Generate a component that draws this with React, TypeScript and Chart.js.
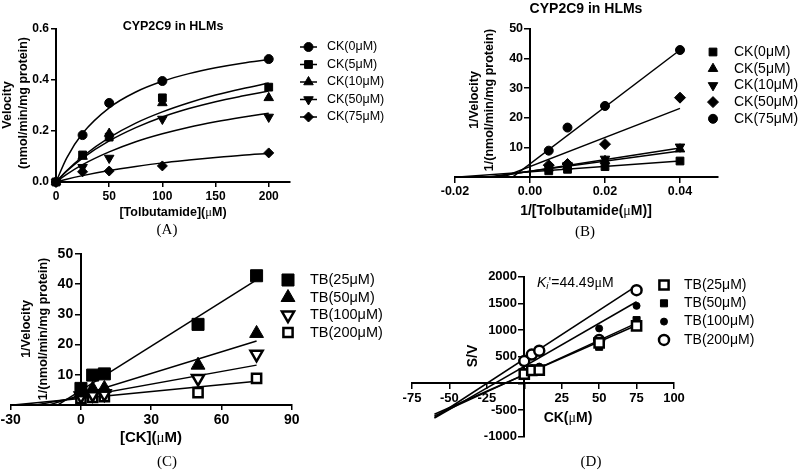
import React, { useEffect, useRef } from 'react';
import { Chart, registerables } from 'chart.js';
import { drawPoint } from 'chart.js/helpers';

Chart.register(...registerables);

const OFF = 100;
const SANS = '"Liberation Sans", Arial, Helvetica, sans-serif';
const SERIF = '"Liberation Serif", "Times New Roman", serif';

// ---------- Panel A: Michaelis-Menten ----------
const tolbutamideA = [0, 25, 50, 100, 200];
const velCK0 = [0, 0.184, 0.31, 0.396, 0.482];
const velCK5 = [0, 0.106, 0.176, 0.33, 0.372];
const velCK10 = [0, 0.1, 0.19, 0.31, 0.33];
const velCK50 = [0, 0.058, 0.094, 0.247, 0.255];
const velCK75 = [0, 0.04, 0.043, 0.063, 0.114];
const fitXA = [0, 10, 25, 50, 75, 100, 125, 150, 175, 200];
const fitCK0 = [0, 0.094, 0.191, 0.291, 0.353, 0.395, 0.425, 0.448, 0.466, 0.48];
const fitCK5 = [0, 0.044, 0.1, 0.174, 0.231, 0.275, 0.311, 0.341, 0.366, 0.388];
const fitCK10 = [0, 0.042, 0.094, 0.161, 0.213, 0.255, 0.288, 0.315, 0.337, 0.357];
const fitCK50 = [0, 0.03, 0.068, 0.118, 0.158, 0.189, 0.215, 0.236, 0.254, 0.27];
const fitCK75 = [0, 0.011, 0.025, 0.045, 0.061, 0.075, 0.086, 0.096, 0.105, 0.112];
const legendA = ['CK(0μM)', 'CK(5μM)', 'CK(10μM)', 'CK(50μM)', 'CK(75μM)'];
const ticksAX = [0, 50, 100, 150, 200];
const tickLabelsAX = ['0', '50', '100', '150', '200'];
const ticksAY = [0, 0.2, 0.4, 0.6];
const tickLabelsAY = ['0.0', '0.2', '0.4', '0.6'];

// ---------- Panel B: Lineweaver-Burk ----------
const invSubstrateB = [0.005, 0.01, 0.02, 0.04];
const invVelCK0 = [2.1, 2.6, 3.5, 5.4];
const invVelCK5 = [3.0, 3.6, 5.5, 9.4];
const invVelCK10 = [3.1, 4.0, 6.1, 10.2];
const invVelCK50 = [4.0, 4.4, 11.1, 26.8];
const invVelCK75 = [8.9, 16.7, 24.0, 42.9];
const lineXB = [-0.02, 0.04];
const lineCK0B = [-0.07, 5.39];
const lineCK5B = [-1.5, 8.8];
const lineCK10B = [-2.0, 9.8];
const lineCK50B = [-6.3, 23.2];
const lineCK75B = [-14.8, 42.9];
const legendB = ['CK(0μM)', 'CK(5μM)', 'CK(10μM)', 'CK(50μM)', 'CK(75μM)'];
const ticksBX = [-0.02, 0, 0.02, 0.04];
const tickLabelsBX = ['-0.02', '0.00', '0.02', '0.04'];
const ticksBY = [0, 10, 20, 30, 40, 50];
const tickLabelsBY = ['', '10', '20', '30', '40', '50'];

// ---------- Panel C: Dixon plot ----------
const ckC = [0, 5, 10, 50, 75];
const invVelTB25 = [5.5, 9.9, 10.3, 26.7, 42.8];
const invVelTB50 = [4.0, 5.3, 5.5, 13.2, 23.7];
const invVelTB100 = [3.0, 3.5, 3.7, 8.8, 16.8];
const invVelTB200 = [2.2, 2.5, 2.8, 4.1, 8.8];
const lineXC = [-30, 75];
const lineTB25C = [-9.8, 41.4];
const lineTB50C = [-3.9, 21.2];
const lineTB100C = [-1.5, 13.2];
const lineTB200C = [-0.1, 7.9];
const legendC = ['TB(25μM)', 'TB(50μM)', 'TB(100μM)', 'TB(200μM)'];
const ticksCX = [-30, 0, 30, 60, 90];
const tickLabelsCX = ['-30', '0', '30', '60', '90'];
const ticksCY = [0, 10, 20, 30, 40, 50];
const tickLabelsCY = ['', '10', '20', '30', '40', '50'];

// ---------- Panel D: Cornish-Bowden plot ----------
const ckD = [0, 5, 10, 50, 75];
const svTB25 = [175, 245, 250, 760, 1079];
const svTB50 = [142, 260, 255, 686, 1186];
const svTB100 = [215, 290, 315, 1030, 1453];
const svTB200 = [418, 540, 611, 811, 1747];
const lineXD = [-60, 75];
const lineTB25D = [-580, 1090];
const lineTB50D = [-610, 1130];
const lineTB100D = [-650, 1530];
const lineTB200D = [-640, 1830];
const legendD = ['TB(25μM)', 'TB(50μM)', 'TB(100μM)', 'TB(200μM)'];
const ticksDX = [-75, -50, -25, 0, 25, 50, 75, 100];
const tickLabelsDX = ['-75', '-50', '-25', '', '25', '50', '75', '100'];
const ticksDY = [-1000, -500, 0, 500, 1000, 1500, 2000];
const tickLabelsDY = ['-1000', '-500', '', '500', '1000', '1500', '2000'];

type MStyle = { style: string; radius: number; rotation: number; fill: string; bw: number };

const pts = (xs: number[], ys: number[]) => xs.map((x, i) => ({ x, y: ys[i] }));

function markerSet(xs: number[], ys: number[], m: MStyle) {
  return {
    data: pts(xs, ys),
    showLine: false,
    pointStyle: m.style,
    pointRadius: m.radius,
    pointHoverRadius: m.radius,
    pointRotation: m.rotation,
    pointBackgroundColor: m.fill,
    pointBorderColor: '#000',
    pointBorderWidth: m.bw,
    clip: false,
  };
}

function lineSet(xs: number[], ys: number[], smooth = false) {
  return {
    data: pts(xs, ys),
    showLine: true,
    pointRadius: 0,
    pointHoverRadius: 0,
    borderColor: '#000',
    borderWidth: 1.5,
    fill: false,
    cubicInterpolationMode: smooth ? 'monotone' : 'default',
  };
}

// box: size reserved by the axis in the layout (0 for axes placed at a data value)
// pad: trailing spaces that keep labels of such axes clear of their tick marks
function axis(o: any) {
  const suffix = o.pad ? '  ' : '';
  return {
    type: 'linear',
    min: o.min,
    max: o.max,
    position: o.position,
    afterBuildTicks: (s: any) => {
      s.ticks = o.ticks.map((v: number) => ({ value: v }));
    },
    afterFit: (s: any) => {
      if (o.horizontal) s.height = o.box;
      else s.width = o.box;
    },
    ticks: {
      callback: (_v: number, i: number) => (o.labels[i] ? o.labels[i] + suffix : ''),
      font: { family: SANS, size: o.size, weight: 'bold' },
      color: '#000',
      padding: 2,
      autoSkip: false,
      maxRotation: 0,
      minRotation: 0,
    },
    grid: { display: true, drawOnChartArea: false, drawTicks: true, tickLength: 5, color: '#000', lineWidth: 1.5 },
    border: { display: true, color: '#000', width: 2 },
    title: { display: false },
  };
}

function legendPlugin(cfg: any) {
  return {
    id: 'markerLegend',
    afterDraw(chart: any) {
      const ctx = chart.ctx;
      ctx.save();
      cfg.items.forEach((text: string, i: number) => {
        const m: MStyle = cfg.styles[i];
        const cx = cfg.x + OFF;
        const cy = cfg.y + i * cfg.dy + OFF;
        if (cfg.line) {
          ctx.beginPath();
          ctx.strokeStyle = '#000';
          ctx.lineWidth = 1.5;
          ctx.moveTo(cx - cfg.lineHalf, cy);
          ctx.lineTo(cx + cfg.lineHalf, cy);
          ctx.stroke();
        }
        ctx.fillStyle = m.fill;
        ctx.strokeStyle = '#000';
        ctx.lineWidth = m.bw;
        drawPoint(ctx, { pointStyle: m.style, rotation: m.rotation, radius: m.radius, borderWidth: m.bw } as any, cx, cy);
        ctx.fillStyle = '#000';
        ctx.font = `${cfg.size}px ${SANS}`;
        ctx.textAlign = 'left';
        ctx.textBaseline = 'middle';
        ctx.fillText(text, cfg.textX + OFF, cy);
      });
      ctx.restore();
    },
  };
}

function padFor(a: { l: number; r: number; t: number; b: number }, boxL: number, boxB: number) {
  return { left: a.l + OFF - boxL, right: 800 - a.r + OFF, top: a.t + OFF, bottom: 470 - a.b + OFF - boxB };
}

function baseConfig(datasets: any[], scales: any, pad: any, legend: any) {
  return {
    type: 'scatter',
    data: { datasets },
    options: {
      responsive: false,
      maintainAspectRatio: false,
      animation: false,
      events: [],
      layout: { padding: pad },
      plugins: { legend: { display: false }, tooltip: { enabled: false }, title: { display: false } },
      scales,
    },
    plugins: [legendPlugin(legend)],
  };
}

// marker styles
const stA: MStyle[] = [
  { style: 'circle', radius: 4.5, rotation: 0, fill: '#000', bw: 1 },
  { style: 'rect', radius: 5.5, rotation: 0, fill: '#000', bw: 1 },
  { style: 'triangle', radius: 5.5, rotation: 0, fill: '#000', bw: 1 },
  { style: 'triangle', radius: 5.5, rotation: 180, fill: '#000', bw: 1 },
  { style: 'rectRot', radius: 5, rotation: 0, fill: '#000', bw: 1 },
];
const stB: MStyle[] = [
  { style: 'rect', radius: 5.5, rotation: 0, fill: '#000', bw: 1 },
  { style: 'triangle', radius: 5.5, rotation: 0, fill: '#000', bw: 1 },
  { style: 'triangle', radius: 5.5, rotation: 180, fill: '#000', bw: 1 },
  { style: 'rectRot', radius: 5.5, rotation: 0, fill: '#000', bw: 1 },
  { style: 'circle', radius: 4.5, rotation: 0, fill: '#000', bw: 1 },
];
const stC: MStyle[] = [
  { style: 'rect', radius: 8.5, rotation: 0, fill: '#000', bw: 1 },
  { style: 'triangle', radius: 8, rotation: 0, fill: '#000', bw: 1 },
  { style: 'triangle', radius: 7, rotation: 180, fill: '#fff', bw: 2.5 },
  { style: 'rect', radius: 6.5, rotation: 0, fill: '#fff', bw: 2.5 },
];
const stD: MStyle[] = [
  { style: 'rect', radius: 6.5, rotation: 0, fill: '#fff', bw: 2.5 },
  { style: 'rect', radius: 5, rotation: 0, fill: '#000', bw: 1 },
  { style: 'circle', radius: 3.5, rotation: 0, fill: '#000', bw: 1 },
  { style: 'circle', radius: 5, rotation: 0, fill: '#fff', bw: 2.5 },
];

function configA() {
  const ds = [
    markerSet(tolbutamideA, velCK0, stA[0]),
    markerSet(tolbutamideA, velCK5, stA[1]),
    markerSet(tolbutamideA, velCK10, stA[2]),
    markerSet(tolbutamideA, velCK50, stA[3]),
    markerSet(tolbutamideA, velCK75, stA[4]),
    lineSet(fitXA, fitCK0, true),
    lineSet(fitXA, fitCK5, true),
    lineSet(fitXA, fitCK10, true),
    lineSet(fitXA, fitCK50, true),
    lineSet(fitXA, fitCK75, true),
  ];
  const scales = {
    x: axis({ min: 0, max: 220, ticks: ticksAX, labels: tickLabelsAX, size: 12, position: 'bottom', horizontal: true, box: 30 }),
    y: axis({ min: 0, max: 0.6, ticks: ticksAY, labels: tickLabelsAY, size: 12, position: 'left', horizontal: false, box: 50 }),
  };
  return baseConfig(ds, scales, padFor({ l: 56, r: 290, t: 29, b: 182 }, 50, 30), {
    items: legendA, styles: stA, x: 308.5, textX: 327, y: 47, dy: 17.5, size: 12.5, line: true, lineHalf: 8.5,
  });
}

function configB() {
  const ds = [
    markerSet(invSubstrateB, invVelCK0, stB[0]),
    markerSet(invSubstrateB, invVelCK5, stB[1]),
    markerSet(invSubstrateB, invVelCK10, stB[2]),
    markerSet(invSubstrateB, invVelCK50, stB[3]),
    markerSet(invSubstrateB, invVelCK75, stB[4]),
    lineSet(lineXB, lineCK0B),
    lineSet(lineXB, lineCK5B),
    lineSet(lineXB, lineCK10B),
    lineSet(lineXB, lineCK50B),
    lineSet(lineXB, lineCK75B),
  ];
  const scales = {
    x: axis({ min: -0.02, max: 0.05, ticks: ticksBX, labels: tickLabelsBX, size: 12.5, position: { y: 0 }, horizontal: true, box: 0 }),
    y: axis({ min: 0, max: 50, ticks: ticksBY, labels: tickLabelsBY, size: 12.5, position: { x: 0 }, horizontal: false, box: 0, pad: true }),
  };
  return baseConfig(ds, scales, padFor({ l: 455, r: 717.5, t: 29, b: 177 }, 0, 0), {
    items: legendB, styles: stB, x: 713, textX: 734, y: 52, dy: 16.7, size: 14, line: false,
  });
}

function configC() {
  const ds = [
    markerSet(ckC, invVelTB25, stC[0]),
    markerSet(ckC, invVelTB50, stC[1]),
    markerSet(ckC, invVelTB100, stC[2]),
    markerSet(ckC, invVelTB200, stC[3]),
    lineSet(lineXC, lineTB25C),
    lineSet(lineXC, lineTB50C),
    lineSet(lineXC, lineTB100C),
    lineSet(lineXC, lineTB200C),
  ];
  const scales = {
    x: axis({ min: -30, max: 90, ticks: ticksCX, labels: tickLabelsCX, size: 14, position: 'bottom', horizontal: true, box: 30 }),
    y: axis({ min: 0, max: 50, ticks: ticksCY, labels: tickLabelsCY, size: 14, position: { x: 0 }, horizontal: false, box: 0, pad: true }),
  };
  return baseConfig(ds, scales, padFor({ l: 10.7, r: 291.7, t: 254, b: 405 }, 0, 30), {
    items: legendC, styles: stC, x: 288, textX: 310, y: 280, dy: 17.5, size: 14.5, line: false,
  });
}

function configD() {
  const ds = [
    markerSet(ckD, svTB25, stD[0]),
    markerSet(ckD, svTB50, stD[1]),
    markerSet(ckD, svTB100, stD[2]),
    markerSet(ckD, svTB200, stD[3]),
    lineSet(lineXD, lineTB25D),
    lineSet(lineXD, lineTB50D),
    lineSet(lineXD, lineTB100D),
    lineSet(lineXD, lineTB200D),
  ];
  const scales = {
    x: axis({ min: -75, max: 100, ticks: ticksDX, labels: tickLabelsDX, size: 13, position: { y: 0 }, horizontal: true, box: 0 }),
    y: axis({ min: -1000, max: 2000, ticks: ticksDY, labels: tickLabelsDY, size: 13, position: { x: 0 }, horizontal: false, box: 0, pad: true }),
  };
  return baseConfig(ds, scales, padFor({ l: 412, r: 674, t: 276.7, b: 436.7 }, 0, 0), {
    items: legendD, styles: stD, x: 664, textX: 684, y: 285, dy: 18.3, size: 14, line: false,
  });
}

function ChartLayer({ make }: { make: () => any }) {
  const ref = useRef<HTMLCanvasElement>(null);
  useEffect(() => {
    const chart = new Chart(ref.current as HTMLCanvasElement, make() as any);
    return () => chart.destroy();
  }, []);
  return (
    <canvas
      ref={ref}
      width={1000}
      height={670}
      style={{ position: 'absolute', left: -OFF, top: -OFF, width: 1000, height: 670 }}
    />
  );
}

function Txt(p: { x: number; y: number; size: number; bold?: boolean; serif?: boolean; rot?: boolean; left?: boolean; children: any }) {
  const tr = p.left ? 'translate(0,-50%)' : `translate(-50%,-50%)${p.rot ? ' rotate(-90deg)' : ''}`;
  return (
    <div
      style={{
        position: 'absolute',
        left: p.x,
        top: p.y,
        transform: tr,
        fontFamily: p.serif ? SERIF : SANS,
        fontSize: p.size,
        fontWeight: p.bold ? 700 : 400,
        whiteSpace: 'nowrap',
        lineHeight: 1,
        color: '#000',
      }}
    >
      {p.children}
    </div>
  );
}

const Mu = () => <span style={{ fontFamily: SERIF, fontWeight: 400 }}>μ</span>;

export default function App() {
  return (
    <div style={{ position: 'fixed', left: 0, top: 0, width: 800, height: 470, overflow: 'hidden', background: '#fff' }}>
      <ChartLayer make={configA} />
      <ChartLayer make={configB} />
      <ChartLayer make={configC} />
      <ChartLayer make={configD} />

      {/* Panel A */}
      <Txt x={173} y={26} size={12.5} bold>CYP2C9 in HLMs</Txt>
      <Txt x={173} y={212} size={12.5} bold>[Tolbutamide](<Mu />M)</Txt>
      <Txt x={7} y={105} size={12.5} bold rot>Velocity</Txt>
      <Txt x={23} y={103} size={12.5} bold rot>(nmol/min/mg protein)</Txt>
      <Txt x={167} y={229} size={15} serif>(A)</Txt>

      {/* Panel B */}
      <Txt x={586} y={8} size={14} bold>CYP2C9 in HLMs</Txt>
      <Txt x={586} y={210} size={14} bold>1/[Tolbutamide(<Mu />M)]</Txt>
      <Txt x={474} y={100} size={12.5} bold rot>1/Velocity</Txt>
      <Txt x={489} y={100} size={12.5} bold rot>1/(nmol/min/mg protein)</Txt>
      <Txt x={585} y={231} size={15} serif>(B)</Txt>

      {/* Panel C */}
      <Txt x={151} y={437} size={15} bold>[CK](<Mu />M)</Txt>
      <Txt x={26} y={329} size={12.5} bold rot>1/Velocity</Txt>
      <Txt x={43} y={329} size={12.5} bold rot>1/(nmol/min/mg protein)</Txt>
      <Txt x={167} y={461} size={15} serif>(C)</Txt>

      {/* Panel D */}
      <Txt x={568} y={417} size={14} bold>CK(<Mu />M)</Txt>
      <Txt x={472} y={356} size={14} bold rot>S/V</Txt>
      <Txt x={537} y={282} size={14} left>
        <i>K</i>
        <sub style={{ fontSize: '0.7em', verticalAlign: '-0.25em', lineHeight: 0 }}><i>i</i></sub>'=44.49<Mu />M
      </Txt>
      <Txt x={591} y={461} size={15} serif>(D)</Txt>
    </div>
  );
}
